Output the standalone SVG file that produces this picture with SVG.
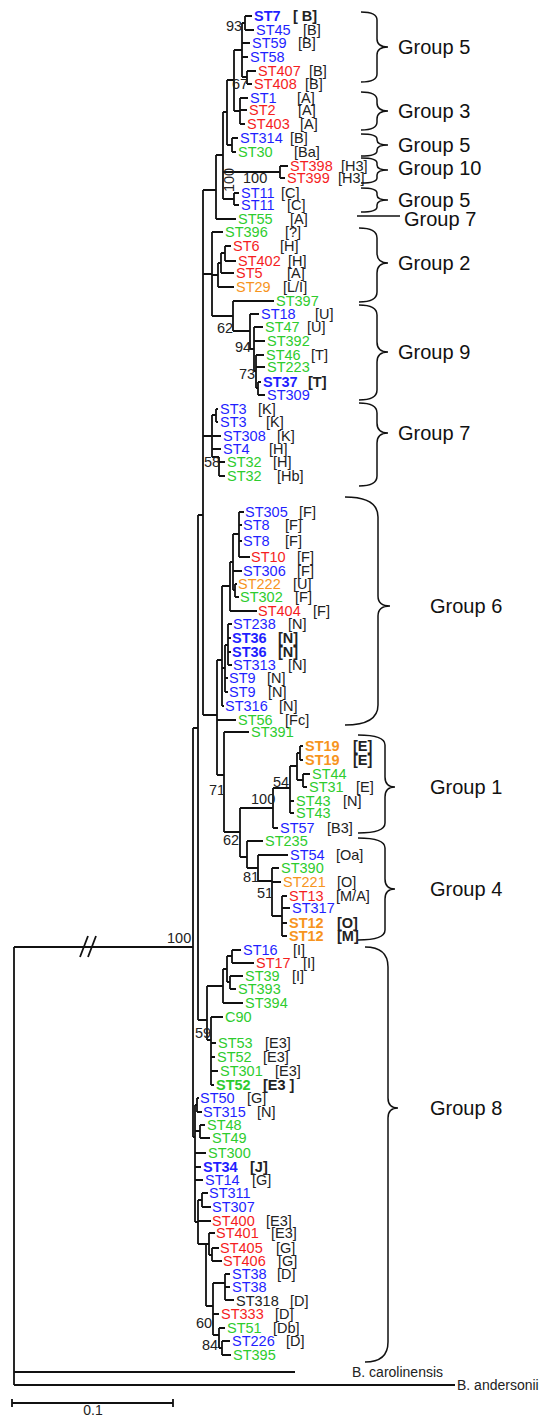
<svg xmlns="http://www.w3.org/2000/svg" width="542" height="1418" viewBox="0 0 542 1418">
<style>
text{font-family:"Liberation Sans",Arial,sans-serif;font-size:14.5px}
.b{fill:#1f1fff}.r{fill:#f51e1e}.g{fill:#2ecc2e}.o{fill:#f7941d}.k{fill:#222}
.bd{font-weight:bold}
.gl{font-size:20px;fill:#111}
.sp{fill:#222}
.sm{font-size:14px}
.ln{fill:none;stroke:#111;stroke-width:1.8}
.br{fill:none;stroke:#111;stroke-width:1.5}
</style>
<rect width="542" height="1418" fill="#fff"/>
<g id="connectors" class="ln">
<path d="M14 947V1385M14 947H193M14 1372H295M14 1385H455"/>
<path d="M80 957L88 936M88 957L96 936"/>
<path d="M193 728V1137M193 728H198M193 1137H195"/>
<path d="M198 515V1020M198 515H203M198 1020H207"/>
<path d="M203 190V715M203 190H216M203 274H212M203 436H212M203 715H217"/>
<path d="M245 16V30M245 16H252M245 30H254"/>
<path d="M242 23V77M242 23H245M242 43H250M242 57H248M242 77H247"/>
<path d="M247 71V84M247 71H256M247 84H252"/>
<path d="M240 98V124M240 98H248M240 110H247M240 124H245"/>
<path d="M234 50V111M234 50H242M234 111H240"/>
<path d="M232 138V152M232 138H238M232 152H236"/>
<path d="M227 80V145M227 80H234M227 145H232"/>
<path d="M280 166V178M280 166H288M280 178H285"/>
<path d="M234 193V205M234 193H239M234 205H239"/>
<path d="M223 112V199M223 112H227M223 172H280M223 199H234"/>
<path d="M216 155V219M216 155H223M216 219H236"/>
<path d="M225 246V261M225 246H231M225 261H236"/>
<path d="M221 253V273M221 253H225M221 273H234"/>
<path d="M218 263V287M218 263H221M218 287H234"/>
<path d="M258 382V395M258 382H261M258 395H265"/>
<path d="M256 355V388M256 355H264M256 367H265M256 388H258"/>
<path d="M254 327V371M254 327H263M254 341H265M254 371H256"/>
<path d="M250 314V349M250 314H259M250 349H254"/>
<path d="M233 301V331M233 301H274M233 331H250"/>
<path d="M212 232V316M212 232H223M212 275H218M212 316H233"/>
<path d="M216 409V422M216 409H218M216 422H218"/>
<path d="M219 457V476M219 462H225M219 476H225"/>
<path d="M212 415V457M212 415H216M212 436H221M212 449H221M212 457H219"/>
<path d="M239 512V557M239 512H244M239 525H242M239 541H242M239 557H250"/>
<path d="M235 584V597M235 584H237M235 597H239"/>
<path d="M233 534V590M233 534H239M233 571H242M233 590H235"/>
<path d="M230 562V611M230 562H233M230 611H257"/>
<path d="M228 624V665M228 624H232M228 638H231M228 652H231M228 665H232"/>
<path d="M225 645V692M225 645H228M225 678H228M225 692H228"/>
<path d="M222 586V706M222 586H230M222 668H225M222 706H224"/>
<path d="M300 746V760M300 746H303M300 760H303"/>
<path d="M303 774V787M303 774H310M303 787H307"/>
<path d="M297 753V780M297 753H300M297 780H303"/>
<path d="M290 766V813M290 766H297M290 801H294M290 813H294"/>
<path d="M273 788V828M273 788H290M273 828H278"/>
<path d="M282 896V936M282 896H287M282 908H290M282 923H287M282 936H287"/>
<path d="M272 868V916M272 868H279M272 882H281M272 916H282"/>
<path d="M258 855V881M258 855H288M258 881H272"/>
<path d="M247 841V868M247 841H263M247 868H258"/>
<path d="M240 808V857M240 808H273M240 857H247"/>
<path d="M224 732V832M224 732H249M224 832H240"/>
<path d="M217 660V775M217 660H222M217 720H236M217 775H224"/>
<path d="M232 950V963M232 950H241M232 963H254"/>
<path d="M230 976V989M230 976H243M230 989H236"/>
<path d="M227 956V982M227 956H232M227 982H230"/>
<path d="M223 969V1003M223 969H227M223 1003H243"/>
<path d="M211 1017V1085M211 1017H223M211 1043H216M211 1057H215M211 1071H218M211 1085H214"/>
<path d="M207 986V1040M207 986H223M207 1040H211"/>
<path d="M195 1105V1222M195 1105H197M195 1131H200M195 1153H206M195 1167H201M195 1180H203M195 1222H198"/>
<path d="M197 1098V1112M197 1098H199M197 1112H202"/>
<path d="M200 1125V1138M200 1125H205M200 1138H210"/>
<path d="M198 1200V1244M198 1200H202M198 1221H211M198 1244H206"/>
<path d="M202 1193V1207M202 1193H208M202 1207H211"/>
<path d="M206 1244V1306M206 1244H209M206 1306H213"/>
<path d="M209 1233V1255M209 1233H215M209 1255H212"/>
<path d="M212 1248V1261M212 1248H219M212 1261H222"/>
<path d="M213 1283V1335M213 1283H225M213 1314H219M213 1335H219"/>
<path d="M225 1274V1300M225 1274H230M225 1287H230M225 1300H234"/>
<path d="M219 1328V1348M219 1328H225M219 1348H222"/>
<path d="M222 1341V1355M222 1341H230M222 1355H231"/>
<path d="M12 1403H173M12 1399V1407M173 1399V1407"/>
</g>
<g id="support" class="sp">
<text x="167" y="943">100</text>
<text x="226" y="31">93</text>
<text x="232" y="89">67</text>
<text x="243" y="183">100</text>
<text transform="translate(234 180) rotate(-90)" text-anchor="middle">100</text>
<text x="217" y="333">62</text>
<text x="235" y="352">94</text>
<text x="239" y="379">73</text>
<text x="204" y="467">58</text>
<text x="209" y="795">71</text>
<text x="251" y="804">100</text>
<text x="273" y="787">54</text>
<text x="223" y="845">62</text>
<text x="243" y="882">81</text>
<text x="257" y="898">51</text>
<text x="195" y="1038">59</text>
<text x="196" y="1328">60</text>
<text x="202" y="1350">84</text>
</g>
<g id="tips">
<g id="t1"><text x="254" y="21" class="b bd">ST7</text><text x="293" y="21" class="k bd">[ B]</text></g>
<g id="t2"><text x="256" y="35" class="b">ST45</text><text x="303" y="35" class="k">[B]</text></g>
<g id="t3"><text x="252" y="48" class="b">ST59</text><text x="298" y="48" class="k">[B]</text></g>
<g id="t4"><text x="250" y="62" class="b">ST58</text></g>
<g id="t5"><text x="258" y="76" class="r">ST407</text><text x="309" y="76" class="k">[B]</text></g>
<g id="t6"><text x="254" y="89" class="r">ST408</text><text x="305" y="89" class="k">[B]</text></g>
<g id="t7"><text x="250" y="103" class="b">ST1</text><text x="297" y="103" class="k">[A]</text></g>
<g id="t8"><text x="249" y="115" class="r">ST2</text><text x="298" y="115" class="k">[A]</text></g>
<g id="t9"><text x="247" y="129" class="r">ST403</text><text x="300" y="129" class="k">[A]</text></g>
<g id="t10"><text x="240" y="143" class="b">ST314</text><text x="290" y="143" class="k">[B]</text></g>
<g id="t11"><text x="238" y="157" class="g">ST30</text><text x="294" y="157" class="k">[Ba]</text></g>
<g id="t12"><text x="290" y="171" class="r">ST398</text><text x="341" y="171" class="k">[H3]</text></g>
<g id="t13"><text x="287" y="183" class="r">ST399</text><text x="338" y="183" class="k">[H3]</text></g>
<g id="t14"><text x="241" y="198" class="b">ST11</text><text x="281" y="198" class="k">[C]</text></g>
<g id="t15"><text x="241" y="210" class="b">ST11</text><text x="287" y="210" class="k">[C]</text></g>
<g id="t16"><text x="238" y="224" class="g">ST55</text><text x="290" y="224" class="k">[A]</text></g>
<g id="t17"><text x="225" y="237" class="g">ST396</text><text x="285" y="237" class="k">[?]</text></g>
<g id="t18"><text x="233" y="251" class="r">ST6</text><text x="280" y="251" class="k">[H]</text></g>
<g id="t19"><text x="238" y="266" class="r">ST402</text><text x="288" y="266" class="k">[H]</text></g>
<g id="t20"><text x="236" y="278" class="r">ST5</text><text x="287" y="278" class="k">[A]</text></g>
<g id="t21"><text x="236" y="292" class="o">ST29</text><text x="283" y="292" class="k">[L/I]</text></g>
<g id="t22"><text x="276" y="306" class="g">ST397</text></g>
<g id="t23"><text x="261" y="319" class="b">ST18</text><text x="315" y="319" class="k">[U]</text></g>
<g id="t24"><text x="265" y="332" class="g">ST47</text><text x="307" y="332" class="k">[U]</text></g>
<g id="t25"><text x="267" y="346" class="g">ST392</text></g>
<g id="t26"><text x="266" y="360" class="g">ST46</text><text x="311" y="360" class="k">[T]</text></g>
<g id="t27"><text x="267" y="372" class="g">ST223</text></g>
<g id="t28"><text x="263" y="387" class="b bd">ST37</text><text x="308" y="387" class="k bd">[T]</text></g>
<g id="t29"><text x="267" y="400" class="b">ST309</text></g>
<g id="t30"><text x="220" y="414" class="b">ST3</text><text x="258" y="414" class="k">[K]</text></g>
<g id="t31"><text x="220" y="427" class="b">ST3</text><text x="266" y="427" class="k">[K]</text></g>
<g id="t32"><text x="223" y="441" class="b">ST308</text><text x="277" y="441" class="k">[K]</text></g>
<g id="t33"><text x="223" y="454" class="b">ST4</text><text x="269" y="454" class="k">[H]</text></g>
<g id="t34"><text x="227" y="467" class="g">ST32</text><text x="273" y="467" class="k">[H]</text></g>
<g id="t35"><text x="227" y="481" class="g">ST32</text><text x="277" y="481" class="k">[Hb]</text></g>
<g id="t36"><text x="245" y="517" class="b">ST305</text><text x="299" y="517" class="k">[F]</text></g>
<g id="t37"><text x="243" y="530" class="b">ST8</text><text x="285" y="530" class="k">[F]</text></g>
<g id="t38"><text x="243" y="546" class="b">ST8</text><text x="285" y="546" class="k">[F]</text></g>
<g id="t39"><text x="251" y="562" class="r">ST10</text><text x="297" y="562" class="k">[F]</text></g>
<g id="t40"><text x="243" y="576" class="b">ST306</text><text x="297" y="576" class="k">[F]</text></g>
<g id="t41"><text x="238" y="589" class="o">ST222</text><text x="293" y="589" class="k">[U]</text></g>
<g id="t42"><text x="240" y="602" class="g">ST302</text><text x="295" y="602" class="k">[F]</text></g>
<g id="t43"><text x="258" y="616" class="r">ST404</text><text x="313" y="616" class="k">[F]</text></g>
<g id="t44"><text x="233" y="629" class="b">ST238</text><text x="288" y="629" class="k">[N]</text></g>
<g id="t45"><text x="232" y="643" class="b bd">ST36</text><text x="278" y="643" class="k bd">[N]</text></g>
<g id="t46"><text x="232" y="657" class="b bd">ST36</text><text x="278" y="657" class="k bd">[N]</text></g>
<g id="t47"><text x="233" y="670" class="b">ST313</text><text x="288" y="670" class="k">[N]</text></g>
<g id="t48"><text x="229" y="683" class="b">ST9</text><text x="267" y="683" class="k">[N]</text></g>
<g id="t49"><text x="229" y="697" class="b">ST9</text><text x="268" y="697" class="k">[N]</text></g>
<g id="t50"><text x="225" y="711" class="b">ST316</text><text x="279" y="711" class="k">[N]</text></g>
<g id="t51"><text x="238" y="725" class="g">ST56</text><text x="285" y="725" class="k">[Fc]</text></g>
<g id="t52"><text x="251" y="737" class="g">ST391</text></g>
<g id="t53"><text x="305" y="751" class="o bd">ST19</text><text x="353" y="751" class="k bd">[E]</text></g>
<g id="t54"><text x="305" y="765" class="o bd">ST19</text><text x="353" y="765" class="k bd">[E]</text></g>
<g id="t55"><text x="312" y="779" class="g">ST44</text></g>
<g id="t56"><text x="309" y="792" class="g">ST31</text><text x="356" y="792" class="k">[E]</text></g>
<g id="t57"><text x="296" y="806" class="g">ST43</text><text x="343" y="806" class="k">[N]</text></g>
<g id="t58"><text x="296" y="818" class="g">ST43</text></g>
<g id="t59"><text x="280" y="833" class="b">ST57</text><text x="327" y="833" class="k">[B3]</text></g>
<g id="t60"><text x="265" y="846" class="g">ST235</text></g>
<g id="t61"><text x="290" y="860" class="b">ST54</text><text x="336" y="860" class="k">[Oa]</text></g>
<g id="t62"><text x="281" y="873" class="g">ST390</text></g>
<g id="t63"><text x="283" y="887" class="o">ST221</text><text x="337" y="887" class="k">[O]</text></g>
<g id="t64"><text x="289" y="901" class="r">ST13</text><text x="336" y="901" class="k">[M/A]</text></g>
<g id="t65"><text x="292" y="913" class="b">ST317</text></g>
<g id="t66"><text x="289" y="928" class="o bd">ST12</text><text x="337" y="928" class="k bd">[O]</text></g>
<g id="t67"><text x="289" y="941" class="o bd">ST12</text><text x="337" y="941" class="k bd">[M]</text></g>
<g id="t68"><text x="243" y="955" class="b">ST16</text><text x="293" y="955" class="k">[I]</text></g>
<g id="t69"><text x="256" y="968" class="r">ST17</text><text x="303" y="968" class="k">[I]</text></g>
<g id="t70"><text x="245" y="981" class="g">ST39</text><text x="292" y="981" class="k">[I]</text></g>
<g id="t71"><text x="238" y="994" class="g">ST393</text></g>
<g id="t72"><text x="245" y="1008" class="g">ST394</text></g>
<g id="t73"><text x="225" y="1022" class="g">C90</text></g>
<g id="t74"><text x="218" y="1048" class="g">ST53</text><text x="265" y="1048" class="k">[E3]</text></g>
<g id="t75"><text x="217" y="1062" class="g">ST52</text><text x="263" y="1062" class="k">[E3]</text></g>
<g id="t76"><text x="220" y="1076" class="g">ST301</text><text x="275" y="1076" class="k">[E3]</text></g>
<g id="t77"><text x="216" y="1090" class="g bd">ST52</text><text x="263" y="1090" class="k bd">[E3 ]</text></g>
<g id="t78"><text x="200" y="1103" class="b">ST50</text><text x="247" y="1103" class="k">[G]</text></g>
<g id="t79"><text x="203" y="1117" class="b">ST315</text><text x="257" y="1117" class="k">[N]</text></g>
<g id="t80"><text x="207" y="1130" class="g">ST48</text></g>
<g id="t81"><text x="212" y="1143" class="g">ST49</text></g>
<g id="t82"><text x="208" y="1158" class="g">ST300</text></g>
<g id="t83"><text x="203" y="1172" class="b bd">ST34</text><text x="250" y="1172" class="k bd">[J]</text></g>
<g id="t84"><text x="205" y="1185" class="b">ST14</text><text x="252" y="1185" class="k">[G]</text></g>
<g id="t85"><text x="209" y="1198" class="b">ST311</text></g>
<g id="t86"><text x="212" y="1212" class="b">ST307</text></g>
<g id="t87"><text x="212" y="1226" class="r">ST400</text><text x="266" y="1226" class="k">[E3]</text></g>
<g id="t88"><text x="216" y="1238" class="r">ST401</text><text x="271" y="1238" class="k">[E3]</text></g>
<g id="t89"><text x="220" y="1253" class="r">ST405</text><text x="276" y="1253" class="k">[G]</text></g>
<g id="t90"><text x="223" y="1266" class="r">ST406</text><text x="278" y="1266" class="k">[G]</text></g>
<g id="t91"><text x="232" y="1279" class="b">ST38</text><text x="277" y="1279" class="k">[D]</text></g>
<g id="t92"><text x="232" y="1292" class="b">ST38</text></g>
<g id="t93"><text x="236" y="1306" class="k">ST318</text><text x="290" y="1306" class="k">[D]</text></g>
<g id="t94"><text x="221" y="1319" class="r">ST333</text><text x="275" y="1319" class="k">[D]</text></g>
<g id="t95"><text x="227" y="1333" class="g">ST51</text><text x="273" y="1333" class="k">[Db]</text></g>
<g id="t96"><text x="232" y="1346" class="b">ST226</text><text x="286" y="1346" class="k">[D]</text></g>
<g id="t97"><text x="233" y="1360" class="g">ST395</text></g>
<g id="out1"><text x="352" y="1377" class="k sm">B. carolinensis</text></g>
<g id="out2"><text x="457" y="1390" class="k sm">B. andersonii</text></g>
<g id="scale"><text x="93" y="1415" class="k sm" text-anchor="middle">0.1</text></g>
</g>
<g id="groups">
<g id="grp1"><path class="br" d="M361 12Q377 12 377 20V39Q377 47 388 47Q377 47 377 55V74Q377 82 361 82"/><text x="398" y="54" class="gl">Group 5</text></g>
<g id="grp2"><path class="br" d="M361 92Q377 92 377 100V103Q377 111 388 111Q377 111 377 119V122Q377 130 361 130"/><text x="398" y="118" class="gl">Group 3</text></g>
<g id="grp3"><path class="br" d="M361 134Q377 134 377 139V140Q377 145 388 145Q377 145 377 150V151Q377 156 361 156"/><text x="398" y="152" class="gl">Group 5</text></g>
<g id="grp4"><path class="br" d="M361 158Q377 158 377 163V165Q377 170 388 170Q377 170 377 175V178Q377 183 361 183"/><text x="398" y="175" class="gl">Group 10</text></g>
<g id="grp5"><path class="br" d="M361 188Q377 188 377 193V195Q377 200 388 200Q377 200 377 205V207Q377 212 361 212"/><text x="398" y="207" class="gl">Group 5</text></g>
<g id="grp6"><path class="br" d="M357 216H400"/><text x="404" y="226" class="gl">Group 7</text></g>
<g id="grp7"><path class="br" d="M359 228Q377 228 377 238V253Q377 263 388 263Q377 263 377 273V292Q377 302 359 302"/><text x="398" y="270" class="gl">Group 2</text></g>
<g id="grp8"><path class="br" d="M359 305Q377 305 377 315V342Q377 352 388 352Q377 352 377 362V390Q377 400 359 400"/><text x="398" y="359" class="gl">Group 9</text></g>
<g id="grp9"><path class="br" d="M359 403Q377 403 377 413V423Q377 433 388 433Q377 433 377 443V476Q377 486 359 486"/><text x="398" y="440" class="gl">Group 7</text></g>
<g id="grp10"><path class="br" d="M345 497Q378 497 378 517V596Q378 606 390 606Q378 606 378 616V705Q378 725 345 725"/><text x="430" y="613" class="gl">Group 6</text></g>
<g id="grp11"><path class="br" d="M358 735Q385 735 385 745V777Q385 787 395 787Q385 787 385 797V823Q385 833 358 833"/><text x="430" y="794" class="gl">Group 1</text></g>
<g id="grp12"><path class="br" d="M358 838Q385 838 385 848V879Q385 889 395 889Q385 889 385 899V930Q385 940 358 940"/><text x="430" y="896" class="gl">Group 4</text></g>
<g id="grp13"><path class="br" d="M365 947Q388 947 388 967V1098Q388 1108 398 1108Q388 1108 388 1118V1342Q388 1362 365 1362"/><text x="430" y="1115" class="gl">Group 8</text></g>
</g>
</svg>
